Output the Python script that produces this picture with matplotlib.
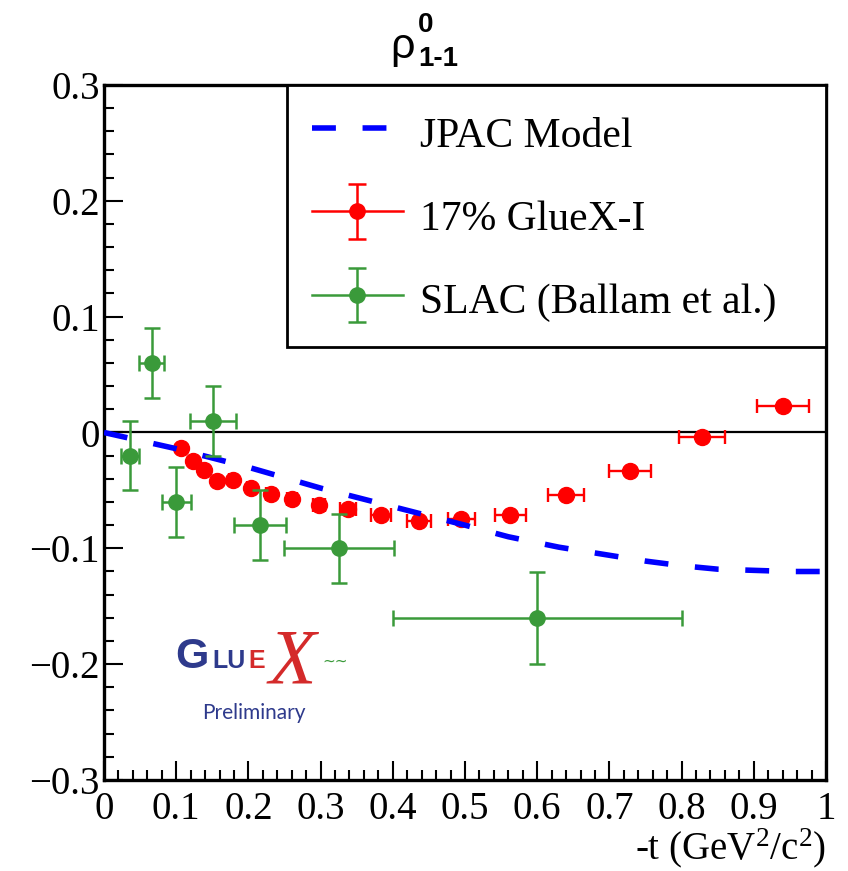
import numpy as np
import matplotlib
matplotlib.use("Agg")
import matplotlib.pyplot as plt
from matplotlib.ticker import FixedLocator, FuncFormatter
from matplotlib.legend_handler import HandlerErrorbar
from matplotlib.container import ErrorbarContainer

plt.rcParams['font.family'] = ['Liberation Serif', 'DejaVu Serif']
plt.rcParams['mathtext.fontset'] = 'custom'
plt.rcParams['mathtext.rm'] = 'Liberation Serif'
plt.rcParams['mathtext.it'] = 'Liberation Serif:italic'

# JPAC model curve
jpac_t = [0.0, 0.05, 0.1, 0.15, 0.2, 0.25, 0.3, 0.35, 0.4, 0.45, 0.5, 0.56,
          0.63, 0.7, 0.75, 0.8, 0.85, 0.9, 0.95, 1.0]
jpac_rho = [0.0, -0.007, -0.014, -0.022, -0.030, -0.039, -0.048, -0.056, -0.064,
            -0.072, -0.080, -0.090, -0.099, -0.106, -0.111, -0.115, -0.118,
            -0.119, -0.120, -0.120]

# 17% GlueX-I
gx_t = [0.106, 0.123, 0.139, 0.157, 0.178, 0.203, 0.231, 0.261, 0.298, 0.338,
        0.384, 0.436, 0.495, 0.563, 0.640, 0.728, 0.828, 0.940]
gx_rho = [-0.013, -0.025, -0.032, -0.042, -0.041, -0.048, -0.053, -0.057, -0.063,
          -0.066, -0.071, -0.076, -0.075, -0.071, -0.054, -0.033, -0.004, 0.023]
gx_terr = [0.003, 0.003, 0.004, 0.004, 0.005, 0.005, 0.006, 0.007, 0.008, 0.011,
           0.014, 0.017, 0.019, 0.022, 0.025, 0.029, 0.032, 0.036]

# SLAC (Ballam et al.)
slac_t = [0.036, 0.066, 0.100, 0.151, 0.216, 0.325, 0.600]
slac_rho = [-0.02, 0.06, -0.06, 0.01, -0.08, -0.10, -0.16]
slac_terr = [0.013, 0.017, 0.020, 0.032, 0.036, 0.076, 0.200]
slac_rerr = [0.03, 0.03, 0.03, 0.03, 0.03, 0.03, 0.04]

xticks = [0, 0.1, 0.2, 0.3, 0.4, 0.5, 0.6, 0.7, 0.8, 0.9, 1.0]
yticks = [-0.3, -0.2, -0.1, 0, 0.1, 0.2, 0.3]

W, H = 848, 871
fig = plt.figure(figsize=(W / 100, H / 100), dpi=100)
ax = fig.add_axes([104 / W, 1 - 780 / H, 722 / W, 695 / H])

red = '#ff0000'
green = '#3a9a3a'
blue = '#0000ff'

ax.axhline(0, color='black', lw=1.6, zorder=2)

ax.errorbar(gx_t, gx_rho, xerr=gx_terr, fmt='o', color=red, ms=11.5, lw=1.7,
            capsize=5, capthick=1.7, zorder=3)
ax.plot(jpac_t, jpac_rho, color=blue, lw=4, dashes=(4.3, 4.8), zorder=4)
ax.errorbar(slac_t, slac_rho, xerr=slac_terr, yerr=slac_rerr, fmt='o', color=green,
            ms=11, lw=1.8, capsize=5.5, capthick=1.8, zorder=5)

# legend proxies (nan point so caps get made but nothing shows on the axes)
h1, = ax.plot([], [], color=blue, lw=4, dashes=(4.3, 4.8), label='JPAC Model')
h2 = ax.errorbar([np.nan], [np.nan], yerr=[1], fmt='-o', color=red, ms=11, lw=1.8,
                 capsize=6.5, capthick=1.8, label='17% GlueX-I')
h3 = ax.errorbar([np.nan], [np.nan], yerr=[1], fmt='-o', color=green, ms=11, lw=1.8,
                 capsize=6.5, capthick=1.8, label='SLAC (Ballam et al.)')
leg = ax.legend(handles=[h1, h2, h3], loc='upper left', mode='expand',
                bbox_to_anchor=(0.253, 0.6, 0.747, 0.4), borderaxespad=0,
                fontsize=30, frameon=True, fancybox=False, framealpha=1,
                edgecolor='black', handlelength=2.2, handletextpad=0.4,
                labelspacing=0.9, borderpad=0.6, handleheight=1.3,
                handler_map={ErrorbarContainer: HandlerErrorbar(yerr_size=0.65)})
leg.get_frame().set_linewidth(2.0)

ax.set_xlim(0, 1)
ax.set_ylim(-0.3, 0.3)
ax.xaxis.set_major_locator(FixedLocator(xticks))
ax.yaxis.set_major_locator(FixedLocator(yticks))
ax.xaxis.set_minor_locator(FixedLocator(np.arange(0, 1.001, 0.02)))
ax.yaxis.set_minor_locator(FixedLocator(np.arange(-0.3, 0.301, 0.02)))
fmt = FuncFormatter(lambda v, p: ('%g' % round(v, 3)).replace('-', '\u2212'))
ax.xaxis.set_major_formatter(fmt)
ax.yaxis.set_major_formatter(fmt)
ax.tick_params(which='both', direction='in', top=False, right=False, width=1.5,
               labelsize=28)
ax.tick_params(which='major', length=14)
ax.tick_params(which='minor', length=7)
ax.tick_params(axis='y', pad=3)
ax.tick_params(axis='x', pad=8)
for s in ax.spines.values():
    s.set_linewidth(2.4)

ax.set_xlabel('-t (GeV$^{2}$/c$^{2}$)', fontsize=28, ha='right', va='top')
ax.xaxis.set_label_coords(1.0, -0.067)


def px(x, y):
    return x / W, 1 - y / H


# title
fig.text(*px(415, 47), '\u03c1', fontsize=31, family='Liberation Sans',
         ha='right', va='center')
fig.text(*px(418, 25), '0', fontsize=20, family='Liberation Sans',
         weight='bold', ha='left', va='center')
fig.text(*px(418, 59), '1-1', fontsize=20, family='Liberation Sans',
         weight='bold', ha='left', va='center')

# GlueX logo
navy = '#2e3a8c'
fig.text(*px(175, 657), 'G', fontsize=31, family='Liberation Sans', weight='bold',
         color=navy, va='center', ha='left')
fig.text(*px(212, 661), 'LU', fontsize=18, family='Liberation Sans', weight='bold',
         color=navy, va='center', ha='left')
fig.text(*px(248, 661), 'E', fontsize=18, family='Liberation Sans', weight='bold',
         color='#d42a2a', va='center', ha='left')
fig.text(*px(292, 664), 'X', fontsize=56, family='Liberation Serif', style='italic',
         color='#d42a2a', va='center', ha='center')
fig.text(*px(322, 661), '~~', fontsize=11, family='DejaVu Sans',
         color='#3a9a3a', va='center', ha='left')
fig.text(*px(254, 713), 'Preliminary', fontsize=15, family='Lato',
         color=navy, va='center', ha='center')

fig.savefig('out.png', dpi=100)
